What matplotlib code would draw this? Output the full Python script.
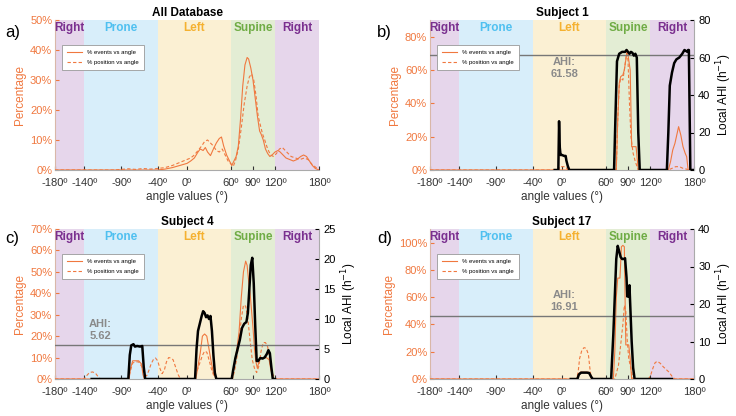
import matplotlib.pyplot as plt
import numpy as np

# regions (angle limits, name, text colour, background colour)
region_edges = [(-180, -140), (-140, -40), (-40, 60), (60, 120), (120, 180)]
region_names = ["Right", "Prone", "Left", "Supine", "Right"]
region_text = ["#7a2f8f", "#4fc0f0", "#f5b130", "#6fac45", "#7a2f8f"]
region_bg = ["#e6d6eb", "#d8eefa", "#fbf0d3", "#e3edd4", "#e6d6eb"]

xticks = [-180, -140, -90, -40, 0, 60, 90, 120, 180]
xticklabels = ["-180º", "-140º", "-90º", "-40º", "0º", "60º", "90º", "120º", "180º"]

# a) All Database
a_ev_x = [-180, -40, -30, -20, -10, 0, 5, 10, 15, 18, 22, 25, 28, 32, 36, 40, 44, 47, 50, 54, 58, 61, 64, 67, 70, 73, 76, 79, 82, 84, 87, 90, 93, 96, 99, 101, 104, 107, 110, 113, 116, 120, 124, 127, 131, 135, 140, 145, 150, 155, 159, 163, 167, 171, 175, 180]
a_ev_y = [0, 0, 0.3, 0.8, 1.5, 2.2, 3, 4, 6, 7, 6.5, 7.5, 6, 4.8, 7, 9, 10.5, 11, 8, 5, 3, 1.5, 3, 4.5, 8, 17, 28, 35, 37.5, 37, 34, 30, 24, 18, 13, 12, 10, 7, 5.5, 4.5, 5, 6, 6.5, 6, 5, 4, 3.5, 3, 3.5, 4.5, 5, 4.5, 3, 1.5, 0.5, 0]
a_po_x = [-180, -100, -90, -80, -70, -60, -50, -40, -30, -20, -10, 0, 5, 10, 15, 20, 24, 28, 32, 36, 40, 44, 48, 52, 56, 60, 63, 66, 70, 74, 78, 82, 85, 88, 91, 94, 97, 100, 103, 106, 110, 114, 118, 122, 126, 130, 134, 138, 142, 148, 154, 160, 165, 170, 175, 180]
a_po_y = [0, 0, 0.2, 0.4, 0.2, 0.5, 0.3, 0.5, 0.8, 1.5, 2.5, 3.5, 4, 5, 6.5, 8, 9.5, 10, 9, 8, 6.5, 6, 7, 5, 3, 2, 1.2, 3, 7, 14, 22, 28, 31, 32, 30, 25, 18, 15, 12, 10, 7, 5, 4.5, 5.5, 7, 7.5, 6.5, 5.5, 4.5, 4, 3.5, 4, 3.5, 2, 1, 0]

# b) Subject 1
b_ev_x = [-180, 74, 76, 78, 80, 83, 85, 87, 89, 91, 93, 95, 98, 101, 104, 145, 148, 151, 154, 157, 159, 162, 165, 168, 170, 172, 180]
b_ev_y = [0, 0, 30, 52, 56, 57, 60, 66, 72, 66, 60, 14, 14, 14, 0, 0, 5, 12, 16, 22, 26, 21, 14, 10, 8, 0, 0]
b_po_x = [-180, -5, -3, 5, 8, 74, 76, 78, 80, 83, 85, 88, 90, 92, 94, 97, 100, 104, 145, 150, 155, 160, 165, 170, 172, 180]
b_po_y = [0, 0, 2, 2, 0, 0, 30, 50, 55, 54, 60, 70, 66, 40, 20, 10, 5, 0, 0, 1, 2, 2, 1, 0.5, 0, 0]
b_ahi_x = [-10, -5, -4, -3, -2, 0, 3, 5, 6, 8, 10, 71, 73, 75, 78, 82, 86, 88, 90, 92, 94, 96, 98, 100, 102, 104, 106, 143, 145, 147, 150, 153, 156, 160, 164, 167, 169, 171, 172, 173, 175, 180]
b_ahi_y = [0, 0, 26, 12, 8, 8, 7.5, 7.5, 5, 2, 0, 0, 30, 58, 62, 63, 63, 64, 63, 62, 63, 62.5, 61, 62, 60, 20, 0, 0, 20, 45, 52, 57, 59, 60, 62, 64, 63.5, 63, 64, 64, 0, 0]
b_ahi = 61.58

# c) Subject 4
c_ev_x = [-180, -79, -77, -74, -70, -66, -62, -60, -58, 12, 15, 18, 21, 24, 27, 30, 33, 36, 40, 62, 65, 68, 71, 74, 77, 80, 82, 84, 86, 88, 90, 92, 94, 96, 98, 100, 104, 108, 112, 114, 116, 118, 180]
c_ev_y = [0, 0, 5, 8.5, 8.5, 8.5, 7, 2, 0, 0, 6, 12, 20, 21, 20, 14, 8, 3, 0, 0, 8, 14, 22, 38, 50, 55, 53, 46, 40, 32, 24, 14, 8, 5, 8, 10, 10, 10, 9, 5, 2, 0, 0]
c_po_x = [-180, -140, -137, -133, -129, -125, -121, -118, -80, -77, -74, -70, -66, -62, -58, -55, -52, -49, -46, -43, -40, -37, -34, -31, -28, -25, -22, -19, -15, -12, -9, 10, 14, 18, 21, 24, 27, 30, 33, 36, 40, 62, 65, 68, 71, 74, 77, 80, 83, 86, 89, 92, 95, 98, 101, 104, 107, 110, 113, 116, 120, 180]
c_po_y = [0, 0, 1.5, 3, 3.3, 2.8, 1, 0, 0, 4, 7.5, 8, 8, 6, 2, 1.5, 4, 7, 9, 9.8, 8.5, 5, 2.5, 4, 8, 10, 9.8, 9, 5, 2, 0, 0, 4, 8, 11, 13, 12.5, 9, 5, 2, 0, 0, 4, 10, 18, 28, 34.5, 34, 28, 18, 9, 5, 3, 6, 13, 17, 17, 15, 8, 3, 0, 0]
c_ahi_x = [-130, -120, -80, -78, -76, -73, -71, -68, -64, -61, -59, -57, 11, 13, 15, 18, 20, 22, 24, 26, 28, 30, 32, 34, 36, 38, 40, 61, 63, 66, 69, 72, 75, 78, 81, 83, 85, 87, 89, 91, 93, 95, 97, 100, 103, 106, 109, 111, 113, 115, 117, 120]
c_ahi_y = [0, 0, 0, 4, 5.6, 5.8, 5.4, 5.5, 5.4, 5.5, 2, 0, 0, 5, 8, 9.5, 10.5, 11.3, 11, 10.3, 10.6, 10, 10.5, 8, 4, 1, 0, 0, 1.5, 3.5, 5, 6.5, 8.5, 9.2, 9.5, 11, 15, 19, 20.2, 16, 9, 3, 3, 3.5, 3.4, 3.6, 4.2, 4.8, 4.3, 2, 0, 0]
c_ahi = 5.62

# d) Subject 17
d_ev_x = [-180, 20, 22, 25, 30, 36, 39, 42, 70, 72, 74, 76, 79, 80, 81, 83, 85, 86, 87, 89, 91, 93, 95, 180]
d_ev_y = [0, 0, 3, 5, 5, 5, 3, 0, 0, 20, 60, 74, 74, 85, 97, 98, 97, 60, 25, 25, 25, 15, 0, 0]
d_po_x = [-180, 20, 22, 24, 27, 30, 33, 36, 38, 40, 72, 74, 77, 80, 83, 85, 87, 89, 91, 93, 95, 97, 118, 121, 124, 127, 130, 134, 138, 142, 146, 150, 154, 180]
d_po_y = [0, 0, 5, 15, 21, 23, 22.5, 18, 8, 0, 0, 4, 10, 25, 40, 54, 50, 28, 15, 10, 5, 0, 0, 3, 8, 12, 13, 11.5, 9, 7, 5, 2, 0, 0]
d_ahi_x = [12, 21, 23, 26, 30, 34, 37, 40, 42, 67, 70, 72, 74, 76, 78, 80, 82, 84, 86, 88, 89, 90, 91, 92, 93, 95, 97, 99, 150]
d_ahi_y = [0, 0, 1.2, 1.7, 1.7, 1.7, 1.6, 0.5, 0, 0, 12, 22, 32, 35.5, 34, 32.5, 32, 32, 32.2, 27, 22, 24, 22, 25, 20, 10, 3, 0, 0]
d_ahi = 16.91

orange = "#f0783f"
grey = "#8a8a8a"

W, H = 736, 416
fig = plt.figure(figsize=(W / 100, H / 100), dpi=100)
plt.rcParams['font.family'] = ['Liberation Sans', 'DejaVu Sans']


def make_axes(px_left, px_top):
    return fig.add_axes([px_left / W, 1 - (px_top + 150) / H, 264 / W, 150 / H])


def decorate(ax, ymax, yticks, title):
    for (x0, x1), bg in zip(region_edges, region_bg):
        ax.axvspan(x0, x1, color=bg, lw=0, zorder=0)
    ax.set_xlim(-180, 180)
    ax.set_ylim(0, ymax)
    ax.set_xticks(xticks)
    ax.set_xticklabels(xticklabels)
    ax.set_yticks(yticks)
    ax.set_yticklabels([f"{v}%" for v in yticks])
    ax.tick_params(axis='y', colors=orange, labelsize=8, direction='in', length=3, pad=2)
    ax.tick_params(axis='x', colors="#333333", labelsize=8, direction='in', length=3, pad=6)
    for s in ['top', 'right']:
        ax.spines[s].set_visible(False)
    ax.spines['left'].set_color("#d9b7a8")
    ax.spines['bottom'].set_color("#aaaaaa")
    ax.set_xlabel("angle values (°)", fontsize=8.5, color="#333333", labelpad=2)
    ax.set_ylabel("Percentage", fontsize=8.5, color=orange, labelpad=3)
    ax.set_title(title, fontsize=8.5, fontweight='bold', pad=3)
    for (x0, x1), name, col in zip(region_edges, region_names, region_text):
        ax.text((x0 + x1) / 2, ymax * 0.985, name, ha='center', va='top',
                fontsize=8.5, fontweight='bold', color=col)


def curves(ax, ex, ey, px, py, top=None):
    l1, = ax.plot(ex, ey, color=orange, lw=0.8, label="% events vs angle", zorder=3)
    l2, = ax.plot(px, py, color=orange, lw=0.8, ls='--', dashes=(3, 2),
                  label="% position vs angle", zorder=3)
    holder = top if top is not None else ax
    leg = holder.legend(handles=[l1, l2], loc='upper left', bbox_to_anchor=(0.015, 0.855),
                        fontsize=4.3, frameon=True, fancybox=False, edgecolor="#999999",
                        framealpha=1, handlelength=2.6, borderpad=0.8, labelspacing=0.85,
                        handletextpad=0.8)
    leg.get_frame().set_linewidth(0.6)
    leg.set_zorder(5)


def right_axis(ax, ahi_x, ahi_y, ahi, rmax, rticks, tx, ty):
    ax2 = ax.twinx()
    ax2.set_ylim(0, rmax)
    ax2.set_yticks(rticks)
    ax2.tick_params(axis='y', colors="black", labelsize=8, direction='in', length=3, pad=3)
    for s in ['top', 'left', 'bottom']:
        ax2.spines[s].set_visible(False)
    ax2.spines['right'].set_color("#aaaaaa")
    ax2.plot(ahi_x, ahi_y, color="black", lw=1.8, zorder=4)
    ax2.axhline(ahi, color="#777777", lw=1.0, zorder=2)
    ax2.text(tx, ty, f"AHI:\n{ahi:.2f}", fontsize=8, fontweight='bold',
             color=grey, ha='center', va='center', linespacing=1.25)
    ax2.set_ylabel("Local AHI (h$^{-1}$)", fontsize=8.5, labelpad=3)
    return ax2


ax_a = make_axes(55, 20)
decorate(ax_a, 50, [0, 10, 20, 30, 40, 50], "All Database")
curves(ax_a, a_ev_x, a_ev_y, a_po_x, a_po_y)

ax_b = make_axes(430, 20)
decorate(ax_b, 90, [0, 20, 40, 60, 80], "Subject 1")
ax_b2 = right_axis(ax_b, b_ahi_x, b_ahi_y, b_ahi, 80, [0, 20, 40, 60, 80], 3, 54.4)
curves(ax_b, b_ev_x, b_ev_y, b_po_x, b_po_y, top=ax_b2)

ax_c = make_axes(55, 229)
decorate(ax_c, 70, [0, 10, 20, 30, 40, 50, 60, 70], "Subject 4")
ax_c2 = right_axis(ax_c, c_ahi_x, c_ahi_y, c_ahi, 25, [0, 5, 10, 15, 20, 25], -118, 8.2)
curves(ax_c, c_ev_x, c_ev_y, c_po_x, c_po_y, top=ax_c2)

ax_d = make_axes(430, 229)
decorate(ax_d, 110, [0, 20, 40, 60, 80, 100], "Subject 17")
ax_d2 = right_axis(ax_d, d_ahi_x, d_ahi_y, d_ahi, 40, [0, 10, 20, 30, 40], 2.5, 20.7)
curves(ax_d, d_ev_x, d_ev_y, d_po_x, d_po_y, top=ax_d2)

# panel letters
for letter, px, py in [("a)", 5, 32), ("b)", 377, 32), ("c)", 5, 238), ("d)", 377, 238)]:
    fig.text(px / W, 1 - py / H, letter, fontsize=12, ha='left', va='center')

fig.savefig("out.png", dpi=100)
